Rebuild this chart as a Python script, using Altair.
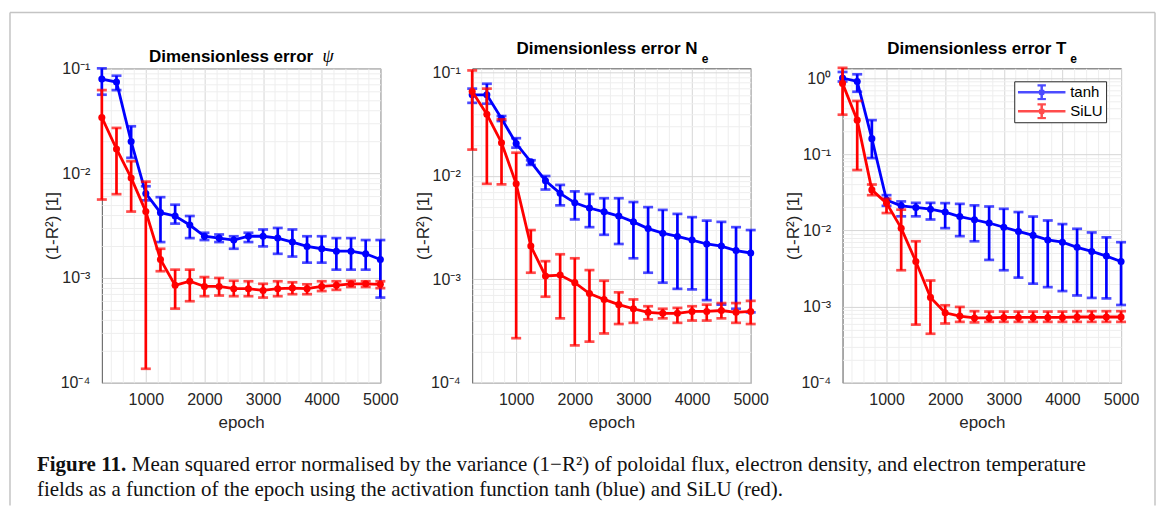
import altair as alt
import pandas as pd

# ---------------- data ----------------
epochs = [250, 500, 750, 1000, 1250, 1500, 1750, 2000, 2250, 2500,
          2750, 3000, 3250, 3500, 3750, 4000, 4250, 4500, 4750, 5000]
series = ["tanh", "SiLU"]
colors = ["#0000ff", "#ff0000"]

# Panel 1: psi
psi_tanh = [0.079, 0.074, 0.020, 0.0064, 0.0042, 0.0039, 0.0032, 0.0025, 0.0024, 0.0023,
            0.0025, 0.0025, 0.0024, 0.0022, 0.0020, 0.0019, 0.0018, 0.0018, 0.0017, 0.0015]
psi_tanh_lo = [0.056, 0.062, 0.014, 0.0055, 0.0022, 0.0033, 0.0024, 0.0023, 0.0022, 0.0019,
               0.0022, 0.0020, 0.0017, 0.0016, 0.0014, 0.0014, 0.0012, 0.0012, 0.0012, 0.00065]
psi_tanh_hi = [0.100, 0.085, 0.028, 0.0075, 0.0059, 0.0050, 0.0039, 0.0027, 0.0026, 0.0025,
               0.0027, 0.0029, 0.0030, 0.0029, 0.0025, 0.0025, 0.0024, 0.0024, 0.0023, 0.0023]
psi_silu = [0.034, 0.017, 0.0090, 0.0043, 0.0015, 0.00085, 0.00093, 0.00083, 0.00083, 0.00079,
            0.00079, 0.00076, 0.00079, 0.00080, 0.00079, 0.00083, 0.00085, 0.00088, 0.00088, 0.00087]
psi_silu_lo = [0.0056, 0.0063, 0.0043, 0.000136, 0.00116, 0.00051, 0.00060, 0.00067, 0.00068, 0.00067,
               0.00067, 0.00065, 0.00067, 0.00070, 0.00070, 0.00075, 0.00077, 0.00082, 0.00082, 0.00080]
psi_silu_hi = [0.062, 0.027, 0.013, 0.0083, 0.0019, 0.0012, 0.0012, 0.00102, 0.0010, 0.00094,
               0.00093, 0.00088, 0.00093, 0.00091, 0.00087, 0.00093, 0.00093, 0.00094, 0.00093, 0.00093]

# Panel 2: Ne
ne_tanh = [0.061, 0.061, 0.036, 0.0206, 0.0137, 0.0090, 0.0068, 0.0055, 0.0049, 0.0045,
           0.0041, 0.0036, 0.0031, 0.0028, 0.0026, 0.0024, 0.0022, 0.0021, 0.0019, 0.0018]
ne_tanh_lo = [0.051, 0.050, 0.034, 0.0188, 0.0128, 0.0074, 0.0052, 0.0038, 0.0032, 0.0027,
              0.0022, 0.0016, 0.00116, 0.00093, 0.00081, 0.00080, 0.00063, 0.00057, 0.00052, 0.00048]
ne_tanh_hi = [0.070, 0.078, 0.038, 0.0232, 0.0142, 0.0100, 0.0082, 0.0071, 0.0067, 0.0061,
              0.0061, 0.0056, 0.0050, 0.0047, 0.0043, 0.0040, 0.0037, 0.0036, 0.0032, 0.0030]
ne_silu = [0.0655, 0.0395, 0.021, 0.0084, 0.0021, 0.00108, 0.0011, 0.00093, 0.00073, 0.00064,
           0.00057, 0.00052, 0.00048, 0.00047, 0.00047, 0.00049, 0.00049, 0.00050, 0.00048, 0.00049]
ne_silu_lo = [0.018, 0.0084, 0.0083, 0.00027, 0.00116, 0.00068, 0.00042, 0.00023, 0.00025, 0.00030,
              0.00037, 0.00038, 0.00041, 0.00042, 0.00038, 0.00040, 0.00040, 0.00042, 0.00038, 0.00037]
ne_silu_hi = [0.105, 0.070, 0.0353, 0.0168, 0.0030, 0.0015, 0.00175, 0.0016, 0.00123, 0.00097,
              0.00075, 0.00064, 0.00055, 0.00052, 0.00053, 0.00055, 0.00057, 0.00059, 0.00059, 0.00062]

# Panel 3: Te
te_tanh = [1.0, 0.90, 0.16, 0.025, 0.021, 0.020, 0.019, 0.0174, 0.0152, 0.0138,
           0.0125, 0.011, 0.0097, 0.0086, 0.0075, 0.0070, 0.0060, 0.0053, 0.0046, 0.0039]
te_tanh_lo = [0.90, 0.66, 0.089, 0.021, 0.0153, 0.0153, 0.0139, 0.0107, 0.0084, 0.0072,
              0.0041, 0.0030, 0.0024, 0.0020, 0.0018, 0.0016, 0.0014, 0.0013, 0.00128, 0.00105]
te_tanh_hi = [1.2, 1.12, 0.28, 0.029, 0.024, 0.023, 0.023, 0.0228, 0.0223, 0.0213,
              0.0206, 0.0192, 0.0174, 0.0152, 0.0135, 0.0121, 0.0105, 0.0094, 0.0081, 0.0070]
te_silu = [0.85, 0.28, 0.034, 0.0228, 0.0107, 0.0039, 0.00132, 0.00083, 0.00075, 0.00071,
           0.00071, 0.00072, 0.00072, 0.00072, 0.00072, 0.00072, 0.00073, 0.00073, 0.00073, 0.00073]
te_silu_lo = [0.33, 0.062, 0.029, 0.0169, 0.0030, 0.00058, 0.00044, 0.00060, 0.00063, 0.00062,
              0.00063, 0.00063, 0.00063, 0.00063, 0.00063, 0.00063, 0.00063, 0.00063, 0.00063, 0.00063]
te_silu_hi = [1.36, 0.50, 0.040, 0.026, 0.0187, 0.0072, 0.0022, 0.00104, 0.00099, 0.00087,
              0.00086, 0.00086, 0.00086, 0.00086, 0.00086, 0.00086, 0.00087, 0.00087, 0.00087, 0.00087]

panel_titles = ["Dimensionless error", "Dimensionless error N", "Dimensionless error T"]
panel_subs = ["\u03c8", "e", "e"]
y_title = "(1-R\u00b2) [1]"
x_title = "epoch"
caption_bold = "Figure 11."
caption_1 = "Mean squared error normalised by the variance (1\u2212R\u00b2) of poloidal flux, electron density, and electron temperature"
caption_2 = "fields as a function of the epoch using the activation function tanh (blue) and SiLU (red)."

# ---------------- style ----------------
FONT = "Liberation Sans"
SERIF = "Liberation Serif"
DARK = "#262626"
MAJOR = "#d6d6d6"
MINOR = "#eeeeee"
FRAME = "#c4c4c4"
W, H = 279, 315

x_ticks = list(range(400, 5001, 200))
color_scale = alt.Scale(domain=series, range=colors)

LOGI = "log(datum.value)/LN10"
IS_MAJOR_Y = f"abs({LOGI} - round({LOGI})) < 0.001"
SUP = "['\u207b\u2074','\u207b\u00b3','\u207b\u00b2','\u207b\u00b9','\u2070']"


def make_df(groups):
    rows = []
    for name, m, lo, hi in groups:
        for e, a, b, c in zip(epochs, m, lo, hi):
            rows.append({"epoch": e, "series": name, "value": a, "lo": b, "hi": c})
    return pd.DataFrame(rows)


def text_layer(txt, x, y, size, weight="normal", style="normal", font=FONT,
               align="left", color=DARK):
    return alt.Chart(alt.Data(values=[{}])).mark_text(
        text=txt, font=font, fontSize=size, fontWeight=weight, fontStyle=style,
        align=align, baseline="alphabetic", color=color
    ).encode(x=alt.value(x), y=alt.value(y))


def rule_layer(x, y, x2=None, y2=None):
    enc = dict(x=alt.value(x), y=alt.value(y))
    if x2 is not None:
        enc["x2"] = alt.value(x2)
    if y2 is not None:
        enc["y2"] = alt.value(y2)
    return alt.Chart(alt.Data(values=[{}])).mark_rule(
        color=FRAME, strokeWidth=1.5).encode(**enc)


# legend glyph: line with an error bar and a small dot (octagon)
LEG_PATH = ("M-3.4,0L3.4,0M0,-1L0,1M-0.6,-1L0.6,-1M-0.6,1L0.6,1"
            "M0.3,0L0.21,0.21L0,0.3L-0.21,0.21L-0.3,0L-0.21,-0.21L0,-0.3L0.21,-0.21Z")

LEGEND = alt.Legend(
    title=None, orient="none", legendX=172, legendY=13,
    symbolType=LEG_PATH, symbolSize=196, symbolStrokeWidth=2.5,
    symbolOffset=16, labelOffset=20, rowPadding=3, padding=3, clipHeight=16,
    labelFont=FONT, labelFontSize=15, labelColor="#000000",
    strokeColor=DARK, fillColor="#ffffff")


def panel(df, ymax, title_main, title_cx, title_y, sub, sub_x, sub_y, sub_font,
          sub_size, sub_style, show_legend=False, extras=()):
    y_ticks = [m * 10.0 ** k for k in range(-4, 1) for m in range(1, 10)]
    y_ticks = [v for v in y_ticks if v <= ymax * 1.0001]
    xs = alt.Scale(domain=[250, 5000], nice=False, zero=False)
    ys = alt.Scale(type="log", domain=[1e-4, ymax], nice=False)
    xaxis = alt.Axis(
        values=x_ticks, format="d", title=x_title, grid=True,
        gridColor={"condition": {"test": "datum.value % 1000 == 0", "value": MAJOR}, "value": MINOR},
        labelExpr="datum.value % 1000 == 0 ? datum.label : ''",
        ticks=False, tickSize=0, domain=False, labelOverlap=False, labelFlush=False,
        labelFont=FONT, labelFontSize=16, labelColor=DARK, labelPadding=9,
        titleFont=FONT, titleFontSize=17, titleFontWeight="normal", titleColor=DARK,
        titlePadding=7)
    yaxis = alt.Axis(
        values=y_ticks, title=y_title, grid=True,
        gridColor={"condition": {"test": IS_MAJOR_Y, "value": MAJOR}, "value": MINOR},
        labelExpr=f"({IS_MAJOR_Y}) ? '10' + {SUP}[round({LOGI}) + 4] : ''",
        ticks=False, tickSize=0, domain=False, labelOverlap=False, labelFlush=False,
        labelFont=FONT, labelFontSize=16, labelColor=DARK, labelPadding=12,
        titleFont=FONT, titleFontSize=17, titleFontWeight="normal", titleColor=DARK,
        titleX=-49, titleY=H / 2, titleAlign="center", titleBaseline="middle", titleAngle=-90)

    X = alt.X("epoch:Q", scale=xs, axis=xaxis)
    base = alt.Chart(df)
    col = alt.Color("series:N", scale=color_scale, sort=series,
                    legend=LEGEND if show_legend else None)
    layers = []
    for s in series:
        b = base.transform_filter(alt.datum.series == s)
        layers.append(b.mark_rule(strokeWidth=2.7).encode(
            x=X, y=alt.Y("lo:Q", scale=ys, axis=yaxis), y2="hi:Q", color=col))
        layers.append(b.mark_tick(orient="horizontal", size=10, thickness=2.7).encode(
            x=X, y=alt.Y("lo:Q", scale=ys, axis=yaxis), color=col))
        layers.append(b.mark_tick(orient="horizontal", size=10, thickness=2.7).encode(
            x=X, y=alt.Y("hi:Q", scale=ys, axis=yaxis), color=col))
        layers.append(b.mark_line(strokeWidth=2.8).encode(
            x=X, y=alt.Y("value:Q", scale=ys, axis=yaxis), color=col))
        layers.append(b.mark_circle(size=50, opacity=1).encode(
            x=X, y=alt.Y("value:Q", scale=ys, axis=yaxis), color=col))

    layers.append(text_layer(title_main, title_cx, title_y, 17, weight="bold", align="center",
                             color="#000000"))
    layers.append(text_layer(sub, sub_x, sub_y, sub_size,
                             weight="bold" if sub_style == "normal" else "normal",
                             style=sub_style, font=sub_font, color="#000000"))
    layers.extend(extras)
    return alt.layer(*layers).properties(width=W, height=H)


# caption + frame (drawn relative to the first panel)
extras1 = [
    rule_layer(-92, -56, x2=1055),
    rule_layer(-92, -56, y2=438),
    rule_layer(1055, -56, y2=438),
    text_layer(caption_bold, -65, 403, 21, weight="bold", font=SERIF, color="#111111"),
    text_layer(caption_1, 30, 403, 21, font=SERIF, color="#111111"),
    text_layer(caption_2, -65, 428, 21, font=SERIF, color="#111111"),
]

df1 = make_df([("tanh", psi_tanh, psi_tanh_lo, psi_tanh_hi), ("SiLU", psi_silu, psi_silu_lo, psi_silu_hi)])
df2 = make_df([("tanh", ne_tanh, ne_tanh_lo, ne_tanh_hi), ("SiLU", ne_silu, ne_silu_lo, ne_silu_hi)])
df3 = make_df([("tanh", te_tanh, te_tanh_lo, te_tanh_hi), ("SiLU", te_silu, te_silu_lo, te_silu_hi)])

p1 = panel(df1, 0.1, panel_titles[0], 129.5, -6, panel_subs[0], 221, -6, SERIF, 18, "italic",
           extras=extras1)
p2 = panel(df2, 0.11, panel_titles[1], 135, -14, panel_subs[1], 230, -5, FONT, 12, "normal")
p3 = panel(df3, 1.34, panel_titles[2], 134.5, -14, panel_subs[2], 228, -5, FONT, 12, "normal",
           show_legend=True)

chart = alt.hconcat(p1, p2, p3, spacing=92, bounds="flush").resolve_scale(
    x="independent", y="independent"
).resolve_legend(color="independent").configure_view(
    stroke="#555555", strokeWidth=1
).properties(padding={"left": 0, "top": 2, "right": 0, "bottom": 0}, background="white")

chart.save("out.html", embed_options={"renderer": "svg", "actions": False})
